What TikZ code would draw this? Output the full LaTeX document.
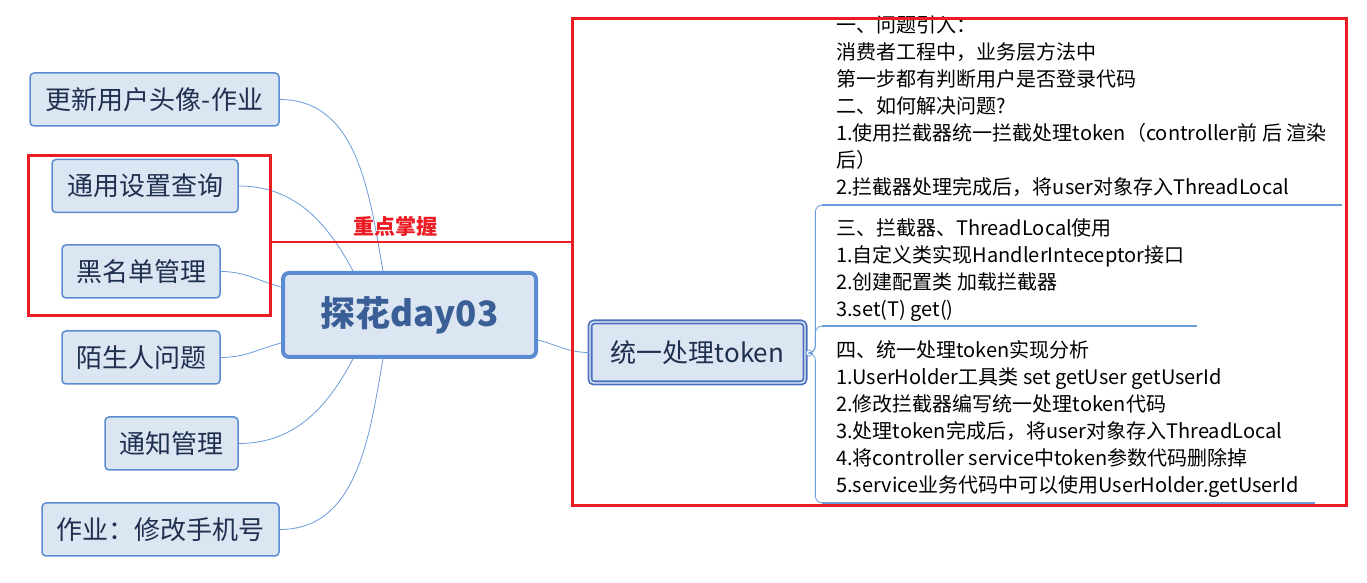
\documentclass[tikz,border=0pt]{standalone}
\usepackage{fontspec}
\setmainfont{Noto Sans CJK SC}
\usetikzlibrary{positioning}

\definecolor{nodefill}{HTML}{DCE6F2}
\definecolor{nodeline}{HTML}{5B8BD0}
\definecolor{nodetext}{HTML}{1F2F4F}
\definecolor{roottext}{HTML}{3A5E96}
\definecolor{tokline}{HTML}{4A70BF}
\definecolor{linkblue}{HTML}{6A9BDB}
\definecolor{markred}{HTML}{EC1C24}

\begin{document}
\begin{tikzpicture}[
  x=1pt, y=1pt,
  topic/.style={rectangle, rounded corners=4pt, draw=nodeline, line width=1.5pt,
                fill=nodefill, text=nodetext, inner sep=0pt, minimum height=53pt,
                font=\fontsize{26}{30}\selectfont},
  rootbox/.style={topic, line width=4pt, rounded corners=6pt, text=roottext,
                  minimum width=253pt, minimum height=84pt,
                  font=\fontsize{35}{40}\selectfont\bfseries},
  tokbox/.style={topic, draw=tokline, line width=1.8pt, double=nodefill!60,
                 double distance=1.4pt, minimum width=215pt, minimum height=61pt},
  link/.style={draw=linkblue, line width=0.8pt},
  uline/.style={draw=linkblue, line width=2.8pt},
  note/.style={anchor=north west, inner sep=0pt, align=left,
               font=\fontsize{20}{27}\selectfont},
  redframe/.style={draw=markred, line width=3pt},
]
\useasboundingbox (0,0) rectangle (1367,583);

% --- nodes ---
\node[rootbox]                        (root)  at (409.5,268)   {探花day03};
\node[topic, minimum width=249pt]     (upd)   at (154.5,483.5) {更新用户头像-作业};
\node[topic, minimum width=186pt]     (gset)  at (145,397)     {通用设置查询};
\node[topic, minimum width=158pt]     (black) at (141,311.5)   {黑名单管理};
\node[topic, minimum width=158pt]     (strg)  at (141,225.5)   {陌生人问题};
\node[topic, minimum width=133pt]     (notif) at (171.5,139.5) {通知管理};
\node[topic, minimum width=237pt]     (phone) at (160.5,53.5)  {作业：修改手机号};
\node[tokbox]                         (tok)   at (697.5,230.5) {统一处理token};
\node[circle, draw=linkblue, fill=white, line width=0.7pt, minimum size=6pt, inner sep=0pt]
                                      (dot)   at (809,230)     {};

% --- notes ---
\node[note] (sec1) at (836,567) {一、问题引入：\\消费者工程中，业务层方法中\\第一步都有判断用户是否登录代码\\二、如何解决问题?\\1.使用拦截器统一拦截处理token（controller前 后 渲染\\后）\\2.拦截器处理完成后，将user对象存入ThreadLocal};
\node[note] (sec2) at (836,365) {三、拦截器、ThreadLocal使用\\1.自定义类实现HandlerInteceptor接口\\2.创建配置类 加载拦截器\\3.set(T) get()};
\node[note] (sec3) at (836,243) {四、统一处理token实现分析\\1.UserHolder工具类 set getUser getUserId\\2.修改拦截器编写统一处理token代码\\3.处理token完成后，将user对象存入ThreadLocal\\4.将controller service中token参数代码删除掉\\5.service业务代码中可以使用UserHolder.getUserId};

\coordinate (u1a) at (822,378); \coordinate (u1b) at (1342,378);
\coordinate (u2a) at (822,257); \coordinate (u2b) at (1197,257);
\coordinate (u3a) at (822,80);  \coordinate (u3b) at (1315,80);

% --- connectors ---
\draw[link] (upd.east)   to[out=0, in=100] ([xshift=-26.5pt]root.north);
\draw[link] (gset.east)  to[out=0, in=118] ([xshift=-56.5pt]root.north);
\draw[link] (black.east) to[out=0, in=165] ([yshift=28pt]root.west);
\draw[link] (strg.east)  to[out=0, in=195] ([yshift=-28pt]root.west);
\draw[link] (notif.east) to[out=0, in=-118] ([xshift=-56.5pt]root.south);
\draw[link] (phone.east) to[out=0, in=-100] ([xshift=-26.5pt]root.south);
\draw[link] ([yshift=-25pt]root.east) to[out=-15, in=180] (tok.west);

\draw[link, rounded corners=7pt] (dot.east) -- ++(3,0) |- (u1a);
\draw[link, rounded corners=7pt] (dot.east) -- ++(3,0) |- (u2a);
\draw[link, rounded corners=7pt] (dot.east) -- ++(3,0) |- (u3a);
\draw[uline] (u1a) -- (u1b);
\draw[uline] (u2a) -- (u2b);
\draw[uline] (u3a) -- (u3b);

% --- red marks ---
\draw[redframe] (28,427) rectangle (270,267);
\draw[redframe] (572,564) rectangle (1346,77);
\draw[markred, line width=1.5pt] (272,341) -- (572,341);
\node[text=markred, font=\fontsize{21}{24}\selectfont\bfseries] (keyp) at (395,357) {重点掌握};
\end{tikzpicture}
\end{document}
